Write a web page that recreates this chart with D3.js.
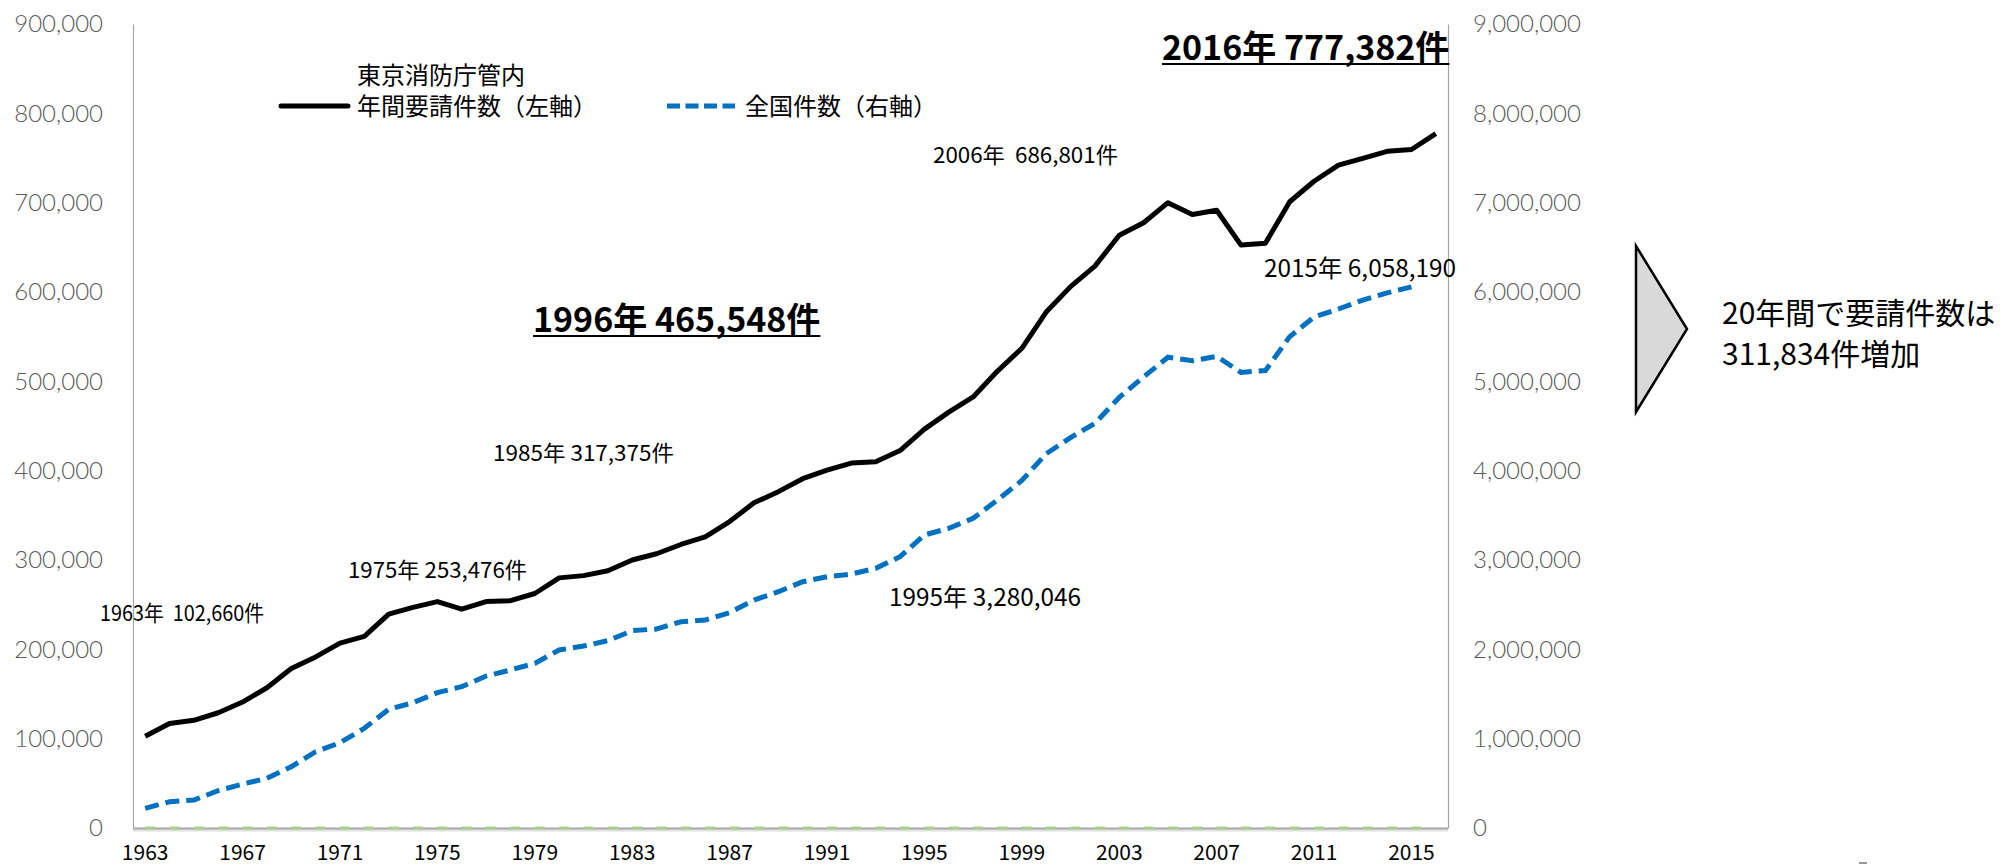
<!DOCTYPE html>
<html><head><meta charset="utf-8">
<script src="https://cdn.jsdelivr.net/npm/d3@7"></script>
<style>body{margin:0;background:#fff}svg{display:block}</style>
</head><body>
<svg id="c" width="2006" height="867"></svg>
<script>
const years=[1963,1964,1965,1966,1967,1968,1969,1970,1971,1972,1973,1974,1975,1976,1977,1978,1979,1980,1981,1982,1983,1984,1985,1986,1987,1988,1989,1990,1991,1992,1993,1994,1995,1996,1997,1998,1999,2000,2001,2002,2003,2004,2005,2006,2007,2008,2009,2010,2011,2012,2013,2014,2015,2016];
const tokyoCalls=[102660,117000,120500,129000,141000,157000,178500,191500,207000,214500,239500,247000,253476,245000,253500,254500,262500,280000,282500,288000,300000,307000,317375,326000,343000,364000,376500,391000,400500,408500,410000,422500,446500,465548,482500,511500,537000,577500,606000,629000,663500,677500,700000,686801,691500,652500,654500,701000,724000,742000,749500,757500,759500,777382];
const nationalCalls=[220000,294000,313000,418000,492000,556000,686000,854000,955000,1116000,1329000,1403000,1515000,1582000,1701000,1769000,1843000,1993000,2037000,2097000,2209000,2228000,2309000,2328000,2410000,2552000,2645000,2757000,2813000,2843000,2907000,3037000,3280046,3355000,3467000,3672000,3890000,4190000,4370000,4530000,4820000,5050000,5270000,5230000,5280000,5100000,5120000,5500000,5720000,5810000,5910000,5990000,6058190,null];
const baseSeries=[0,0,0,0,0,0,0,0,0,0,0,0,0,0,0,0,0,0,0,0,0,0,0,0,0,0,0,0,0,0,0,0,0,0,0,0,0,0,0,0,0,0,0,0,0,0,0,0,0,0,0,0,0,0];
const leftTicks=[0,100000,200000,300000,400000,500000,600000,700000,800000,900000];
const rightTicks=[0,1000000,2000000,3000000,4000000,5000000,6000000,7000000,8000000,9000000];
const xTickYears=[1963,1967,1971,1975,1979,1983,1987,1991,1995,1999,2003,2007,2011,2015];
const legendLabels=[["東京消防庁管内","年間要請件数（左軸）"],["全国件数（右軸）"]];
const noteLabels=["1963年  102,660件","1975年 253,476件","1985年 317,375件","1995年 3,280,046","2006年  686,801件","2015年 6,058,190"];
const boldLabels=["1996年 465,548件","2016年 777,382件"];
const sideText=["20年間で要請件数は","311,834件増加"];

const svg=d3.select("#c");
const L=133,R=1448,T=24,B=828;
const x=d3.scaleBand().domain(years).range([L,R]);
const cx=y=>x(y)+x.bandwidth()/2;
const yL=d3.scaleLinear().domain([0,900000]).range([B,T]);
const yR=d3.scaleLinear().domain([0,9000000]).range([B,T]);
const fmt=d3.format(",");

// axes
const ga=svg.append("g").attr("transform",`translate(${L},0)`)
  .call(d3.axisLeft(yL).tickValues(leftTicks).tickSize(0).tickSizeOuter(0).tickPadding(30).tickFormat(fmt));
const gb=svg.append("g").attr("transform",`translate(${R},0)`)
  .call(d3.axisRight(yR).tickValues(rightTicks).tickSize(0).tickSizeOuter(0).tickPadding(25).tickFormat(fmt));
[ga,gb].forEach(g=>{
  g.select(".domain").attr("stroke","#a6a6a6").attr("stroke-width",1.2);
  g.selectAll("text").attr("font-family","Lato, 'Noto Sans', sans-serif").attr("font-weight",300)
   .attr("font-size",24).attr("fill","#595959");
});
const gx=svg.append("g").attr("transform",`translate(0,${B})`)
  .call(d3.axisBottom(x).tickValues(xTickYears).tickSize(0).tickPadding(17));
gx.select(".domain").remove();
gx.selectAll("text").attr("font-family","'Noto Sans CJK JP', sans-serif").attr("font-size",21).attr("fill","#000");

// bottom axis line with soft shadow
svg.append("line").attr("x1",L).attr("x2",R).attr("y1",B+2.5).attr("y2",B+2.5).attr("stroke","#e0e0e0").attr("stroke-width",2);
svg.append("line").attr("x1",L).attr("x2",R).attr("y1",B+0.5).attr("y2",B+0.5).attr("stroke","#a6a6a6").attr("stroke-width",2);

// series
const mk=(vals)=>years.map((yr,i)=>({yr,v:vals[i]}));
svg.append("path").datum(mk(baseSeries))
  .attr("d",d3.line().x(d=>cx(d.yr)).y(d=>yL(d.v)))
  .attr("fill","none").attr("stroke","#a9d18e").attr("stroke-width",3).attr("stroke-dasharray","10,14.35");
svg.append("path").datum(mk(nationalCalls))
  .attr("d",d3.line().defined(d=>d.v!=null).x(d=>cx(d.yr)).y(d=>yR(d.v)))
  .attr("fill","none").attr("stroke","#0070c0").attr("stroke-width",5).attr("stroke-dasharray","14,7");
svg.append("path").datum(mk(tokyoCalls))
  .attr("d",d3.line().x(d=>cx(d.yr)).y(d=>yL(d.v)))
  .attr("fill","none").attr("stroke","#000").attr("stroke-width",5).attr("stroke-linejoin","round");

// legend
const cjk="'Noto Sans CJK JP', sans-serif";
svg.append("line").attr("x1",281).attr("x2",348).attr("y1",106).attr("y2",106).attr("stroke","#000").attr("stroke-width",5).attr("stroke-linecap","round");
svg.append("text").attr("x",357).attr("y",84).attr("font-family",cjk).attr("font-size",24).text(legendLabels[0][0]);
svg.append("text").attr("x",357).attr("y",115).attr("font-family",cjk).attr("font-size",24).text(legendLabels[0][1]);
svg.append("line").attr("x1",667).attr("x2",735).attr("y1",106).attr("y2",106).attr("stroke","#0070c0").attr("stroke-width",5).attr("stroke-dasharray","13,5.5");
svg.append("text").attr("x",745).attr("y",115).attr("font-family",cjk).attr("font-size",24).text(legendLabels[1][0]);

// notes
const notePos=[[100,621,164,22],[348,578,179,22],[493,461,181,22],[889,606,192,24],[933,163,185,22],[1264,277,192,24]];
noteLabels.forEach((t,i)=>{
  svg.append("text").attr("x",notePos[i][0]).attr("y",notePos[i][1]).attr("font-family",cjk)
    .attr("font-size",notePos[i][3]).attr("fill","#000").attr("xml:space","preserve").style("white-space","pre")
    .attr("textLength",notePos[i][2]).attr("lengthAdjust","spacingAndGlyphs").text(t);
});
const boldPos=[[533,332],[1162,60]];
boldLabels.forEach((t,i)=>{
  const tx=svg.append("text").attr("x",boldPos[i][0]).attr("y",boldPos[i][1]).attr("font-family",cjk)
    .attr("font-size",34).attr("font-weight",700).attr("fill","#000").text(t);
  const w=tx.node().getComputedTextLength();
  svg.append("line").attr("x1",boldPos[i][0]).attr("x2",boldPos[i][0]+w)
    .attr("y1",boldPos[i][1]+4).attr("y2",boldPos[i][1]+4).attr("stroke","#000").attr("stroke-width",2);
});

// side arrow + text
svg.append("polygon").attr("points","1636,246 1687,329 1636,412").attr("fill","#d9d9d9").attr("stroke","#000").attr("stroke-width",2.5).attr("stroke-linejoin","miter");
svg.append("text").attr("x",1722).attr("y",324).attr("font-family",cjk).attr("font-size",30).text(sideText[0]);
svg.append("text").attr("x",1722).attr("y",365).attr("font-family",cjk).attr("font-size",30).text(sideText[1]);
svg.append("rect").attr("x",1859).attr("y",862).attr("width",8).attr("height",2).attr("fill","#999");
</script>
</body></html>
